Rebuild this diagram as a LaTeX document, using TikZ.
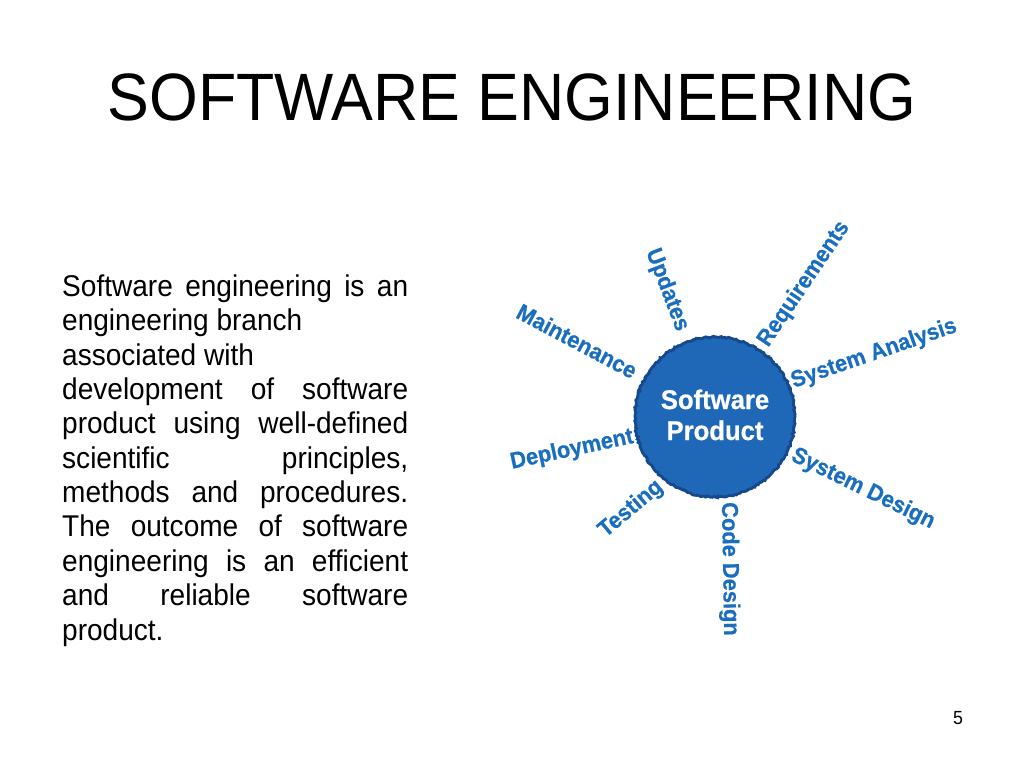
\documentclass[tikz,border=0pt]{standalone}
\usepackage{fontspec}
\usetikzlibrary{decorations.pathmorphing}
\setmainfont{Liberation Sans}[FakeStretch=0.935]
\newfontfamily\heavyfont{Liberation Sans}[FakeStretch=0.95, BoldFeatures={FakeBold=0.6}]
\definecolor{hubfill}{RGB}{31,104,184}
\definecolor{hubedge}{RGB}{22,72,140}
\definecolor{phase}{RGB}{26,110,192}
\tikzset{
  title/.style={font=\fontsize{67}{70}\selectfont, inner sep=0pt, anchor=base},
  bodyline/.style={font=\fontsize{30}{34}\selectfont, inner sep=0pt, anchor=base west},
  hubtext/.style={font=\heavyfont\bfseries\fontsize{27}{31}\selectfont, text=white, inner sep=0pt, anchor=base},
  phaselabel/.style={font=\heavyfont\bfseries\fontsize{23}{25}\selectfont, text=phase, inner sep=0pt},
  pagenum/.style={font=\fontsize{19}{22}\selectfont, inner sep=0pt, anchor=base}
}
\newcommand{\jline}[1]{\makebox[346pt][s]{#1}}
\begin{document}
\begin{tikzpicture}[x=1pt,y=1pt]
\useasboundingbox (0,0) rectangle (1024,-768);
\fill[white] (0,0) rectangle (1024,-768);

% heading
\node[title] (head) at (512,-120) {SOFTWARE ENGINEERING};

% definition paragraph, one node per printed line
\node[bodyline] (l1)  at (62,-296) {\jline{Software engineering is an}};
\node[bodyline] (l2)  at (62,-330) {engineering branch};
\node[bodyline] (l3)  at (62,-365) {associated with};
\node[bodyline] (l4)  at (62,-399) {\jline{development of software}};
\node[bodyline] (l5)  at (62,-433) {\jline{product using well-defined}};
\node[bodyline] (l6)  at (62,-468) {\jline{scientific principles,}};
\node[bodyline] (l7)  at (62,-502) {\jline{methods and procedures.}};
\node[bodyline] (l8)  at (62,-536) {\jline{The outcome of software}};
\node[bodyline] (l9)  at (62,-571) {\jline{engineering is an efficient}};
\node[bodyline] (l10) at (62,-605) {\jline{and reliable software}};
\node[bodyline] (l11) at (62,-640) {product.};

% central hub
\fill[hubfill] (715,-417) circle (81);
\draw[hubedge, line width=2.8pt,
      decoration={random steps, segment length=2pt, amplitude=1pt}, decorate]
  (715,-417) circle (80);
\node[hubtext] (sw1) at (715,-409) {Software};
\node[hubtext] (sw2) at (715,-440) {Product};

% activities around the hub
\node[phaselabel, rotate=-69] (upd) at (667,-290) {Updates};
\node[phaselabel, rotate=56]  (req) at (804,-284) {Requirements};
\node[phaselabel, rotate=19]  (ana) at (874,-354) {System Analysis};
\node[phaselabel, rotate=-26] (sdes) at (863,-489) {System Design};
\node[phaselabel, rotate=-89] (cdes) at (729,-569) {Code Design};
\node[phaselabel, rotate=40]  (tst) at (631,-509) {Testing};
\node[phaselabel, rotate=12]  (dep) at (572,-450) {Deployment};
\node[phaselabel, rotate=-28] (mnt) at (577,-341) {Maintenance};

% slide number
\node[pagenum] (pg) at (958,-724) {5};
\end{tikzpicture}
\end{document}
